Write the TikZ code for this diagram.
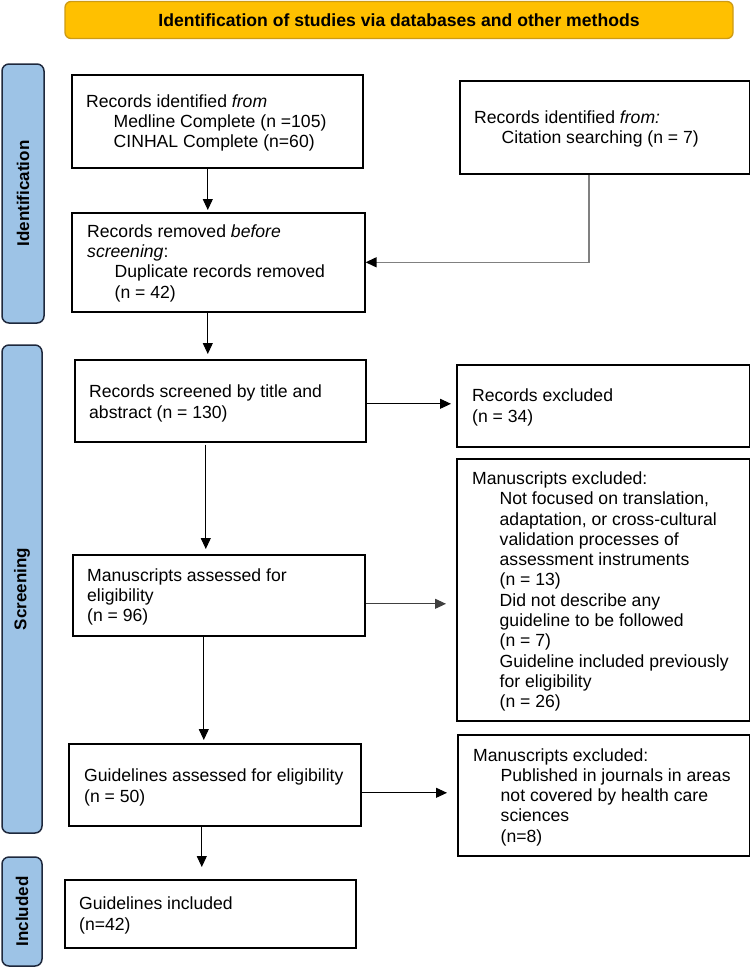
\documentclass[tikz,border=0pt]{standalone}
\usepackage{fontspec}
\setmainfont{Liberation Sans}
\usetikzlibrary{arrows.meta}
\definecolor{bannerfill}{RGB}{255,192,0}
\definecolor{bannerline}{RGB}{205,155,20}
\definecolor{barfill}{RGB}{157,195,230}
\definecolor{barline}{RGB}{30,40,60}
\newcommand\st{\rule[-3.85pt]{0pt}{20.3pt}}
\newcommand\ind{\hspace*{27.5pt}}
\begin{document}
\begin{tikzpicture}[x=1pt, y=-1pt, font=\fontsize{17.6}{20.3}\selectfont,
  box/.style={draw=black, line width=1.6pt, anchor=north west, inner sep=0pt, fill=white},
  txt/.style={anchor=west, align=left, inner sep=0pt},
  arr/.style={-{Triangle[length=11pt,width=10pt]}, line width=1pt},
  garr/.style={-{Triangle[length=11pt,width=10pt,color=black]}, draw=black!50, line width=1.4pt},
  bar/.style={draw=barline, fill=barfill, line width=1.5pt, rounded corners=7pt, rotate=90,
    font=\bfseries\fontsize{17}{20}\selectfont, inner sep=0pt},
  banner/.style={draw=bannerline, fill=bannerfill, line width=1.3pt, rounded corners=6pt,
    font=\bfseries\fontsize{17.6}{20}\selectfont, inner sep=0pt}]
\useasboundingbox (0,0) rectangle (750,967);

% banner
\node[banner, minimum width=668pt, minimum height=37pt] (ban) at (399,20) {Identification of studies via databases and other methods};

% side bars
\node[bar, minimum width=259pt, minimum height=42pt] (sid) at (23,193.5) {Identification};
\node[bar, minimum width=488pt, minimum height=40pt] (sscr) at (22,589) {Screening};
\node[bar, minimum width=109pt, minimum height=40pt] (sinc) at (22,911.5) {Included};

% boxes
\node[box, minimum width=291pt, minimum height=93pt] (b1) at (71,74) {};
\node[box, minimum width=290pt, minimum height=93pt] (b2) at (459,80) {};
\node[box, minimum width=293pt, minimum height=99pt] (b3) at (71,212) {};
\node[box, minimum width=291pt, minimum height=82pt] (b4) at (74,359) {};
\node[box, minimum width=293pt, minimum height=82pt] (b5) at (456,364) {};
\node[box, minimum width=293pt, minimum height=262pt] (b6) at (456,458) {};
\node[box, minimum width=292pt, minimum height=81pt] (b7) at (72,554) {};
\node[box, minimum width=292pt, minimum height=82pt] (b8) at (68,743) {};
\node[box, minimum width=292pt, minimum height=121pt] (b9) at (457,734) {};
\node[box, minimum width=291pt, minimum height=68pt] (b10) at (64,879) {};

% texts
\node[txt] (t1) at ([xshift=15pt]b1.west) {\st Records identified \textit{from}\\\ind Medline Complete (n =105)\\\ind CINHAL Complete (n=60)\st};
\node[txt] (t2) at ([xshift=15pt]b2.west) {\st Records identified \textit{from:}\\\ind Citation searching (n = 7)\st};
\node[txt] (t3) at ([xshift=16pt,yshift=1pt]b3.west) {\st Records removed \textit{before}\\\textit{screening}:\\\ind Duplicate records removed\\\ind (n = 42)\st};
\node[txt] (t4) at ([xshift=15pt,yshift=-1pt]b4.west) {\st Records screened by title and\\abstract (n = 130)\st};
\node[txt] (t5) at ([xshift=16pt]b5.west) {\st Records excluded\\(n = 34)\st};
\node[txt] (t6) at ([xshift=16pt]b6.west) {\st Manuscripts excluded:\\\ind Not focused on translation,\\\ind adaptation, or cross-cultural\\\ind validation processes of\\\ind assessment instruments\\\ind (n = 13)\\\ind Did not describe any\\\ind guideline to be followed\\\ind (n = 7)\\\ind Guideline included previously\\\ind for eligibility\\\ind (n = 26)\st};
\node[txt] (t7) at ([xshift=15pt]b7.west) {\st Manuscripts assessed for\\eligibility\\(n = 96)\st};
\node[txt] (t8) at ([xshift=16pt,yshift=-1pt]b8.west) {\st Guidelines assessed for eligibility\\(n = 50)\st};
\node[txt] (t9) at ([xshift=16pt]b9.west) {\st Manuscripts excluded:\\\ind Published in journals in areas\\\ind not covered by health care\\\ind sciences\\\ind (n=8)\st};
\node[txt] (t10) at ([xshift=15pt]b10.west) {\st Guidelines included\\(n=42)\st};

% connectors
\draw[arr, shorten >=2pt] ([xshift=-9.5pt]b1.south) -- ([xshift=-9.5pt]b1.south |- b3.north);
\draw[garr] ([xshift=-16pt]b2.south) |- (b3.east);
\draw[arr, shorten >=5pt] ([xshift=-10.5pt]b3.south) -- ([xshift=-10.5pt]b3.south |- b4.north);
\draw[arr, shorten >=5pt] ([yshift=-3pt]b4.east) -- ([yshift=-3pt]b4.east -| b5.west);
\draw[arr, shorten <=2pt, shorten >=5pt] ([xshift=-14.5pt]b4.south) -- ([xshift=-14.5pt]b4.south |- b7.north);
\draw[arr, draw=black!75, shorten >=10pt] ([yshift=-8.5pt]b7.east) -- ([yshift=-8.5pt]b7.east -| b6.west);
\draw[arr, shorten >=3pt] ([xshift=-15pt]b7.south) -- ([xshift=-15pt]b7.south |- b8.north);
\draw[arr, shorten >=10pt] ([yshift=-8pt]b8.east) -- ([yshift=-8pt]b8.east -| b9.west);
\draw[arr, shorten >=12pt] ([xshift=-13pt]b8.south) -- ([xshift=-13pt]b8.south |- b10.north);
\end{tikzpicture}
\end{document}
